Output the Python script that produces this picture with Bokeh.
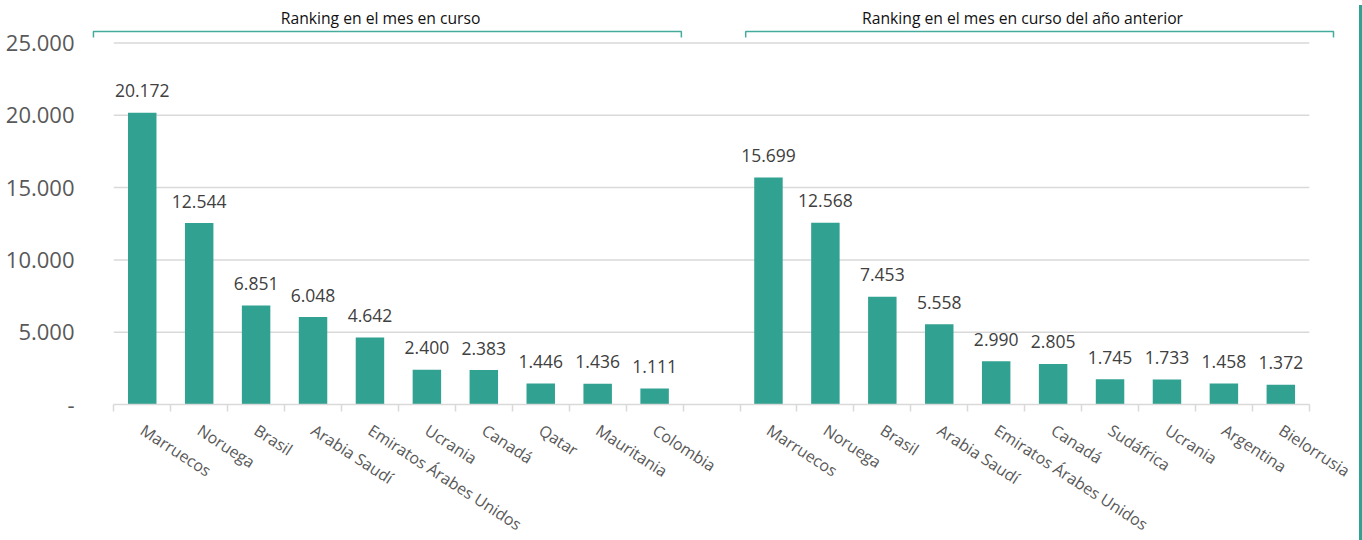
from bokeh.plotting import figure
from bokeh.models import Range1d, FixedTicker, Div
from bokeh.layouts import row
from bokeh.core.properties import value
from bokeh.embed import file_html
from bokeh.resources import INLINE

# ---------------- data ----------------
group_titles = ["Ranking en el mes en curso", "Ranking en el mes en curso del año anterior"]
countries_current = ["Marruecos", "Noruega", "Brasil", "Arabia Saudí", "Emiratos Árabes Unidos",
                     "Ucrania", "Canadá", "Qatar", "Mauritania", "Colombia"]
values_current = [20172, 12544, 6851, 6048, 4642, 2400, 2383, 1446, 1436, 1111]
countries_previous = ["Marruecos", "Noruega", "Brasil", "Arabia Saudí", "Emiratos Árabes Unidos",
                      "Canadá", "Sudáfrica", "Ucrania", "Argentina", "Bielorrusia"]
values_previous = [15699, 12568, 7453, 5558, 2990, 2805, 1745, 1733, 1458, 1372]
y_ticks = [0, 5000, 10000, 15000, 20000, 25000]


def fmt(v):
    return "-" if v == 0 else f"{v:,}".replace(",", ".")


# ---------------- layout helpers ----------------
n1 = len(countries_current)
x_cur = list(range(n1))
x_prev = list(range(n1 + 1, n1 + 1 + len(countries_previous)))
all_x = x_cur + x_prev
all_names = countries_current + countries_previous
all_vals = values_current + values_previous
first, last = all_x[0], all_x[-1]

TEAL = "#31a191"
BRACKET = "#45ab9d"
GRID = "#d9d9d9"
FONT = "Open Sans"

FRAME_H = 396
Y_TOP = 27386
ppu = FRAME_H / Y_TOP  # pixels per data unit

p = figure(frame_width=1250, frame_height=FRAME_H,
           x_range=Range1d(first - 0.5 - 0.444, last + 0.5 + 0.513),
           y_range=Range1d(0, Y_TOP),
           output_backend="svg", toolbar_location=None,
           min_border_left=88, min_border_right=16, min_border_top=8, min_border_bottom=0)
p.outline_line_color = None
p.xgrid.visible = False
p.ygrid.visible = False
p.background_fill_color = "white"
p.border_fill_color = "white"

# gridlines (span only the category area)
grid_vals = y_ticks[1:]
p.segment(x0=[first - 0.5] * len(grid_vals), x1=[last + 0.5] * len(grid_vals),
          y0=grid_vals, y1=grid_vals, line_color=GRID, line_width=1.5)

# bars
p.vbar(x=all_x, top=all_vals, width=0.5, fill_color=TEAL, line_color=None)

# data labels
pad = 22 / ppu
p.text(x=all_x, y=[v + pad for v in all_vals], text=[fmt(v) for v in all_vals],
       text_align="center", text_baseline="alphabetic",
       text_font=value(FONT), text_font_size="17.5px", text_color="#404040")

# group brackets and titles
top = y_ticks[-1]
y_line = top + 11.5 / ppu
y_foot = top + 5.5 / ppu
y_title = top + 25.5 / ppu
groups = [(x_cur[0] - 0.5, x_cur[-1] + 0.5), (x_prev[0] - 0.5, x_prev[-1] + 0.5)]
bx0 = [groups[0][0] - 0.357, groups[1][0] + 0.10]
bx1 = [groups[0][1] - 0.03, groups[1][1] + 0.425]
p.multi_line(xs=[[a, a, b, b] for a, b in zip(bx0, bx1)],
             ys=[[y_foot, y_line, y_line, y_foot]] * 2,
             line_color=BRACKET, line_width=1.5)
title_x = [(a + b) / 2 - s for a, b, s in zip(bx0, bx1, [0.12, 0.30])]
p.text(x=title_x, y=[y_title] * 2, text=group_titles,
       text_align="center", text_baseline="middle",
       text_font=value(FONT), text_font_size="15.7px", text_color="#111111")

# x axis
xa = p.xaxis[0]
xa.ticker = FixedTicker(ticks=all_x, minor_ticks=[i - 0.5 for i in range(first, last + 2)])
xa.bounds = (first - 0.5, last + 0.5)
xa.major_label_overrides = {x: n for x, n in zip(all_x, all_names)}
xa.major_label_orientation = -0.576
xa.major_tick_in = 0
xa.major_tick_out = 0
xa.minor_tick_in = 0
xa.minor_tick_out = 7
xa.minor_tick_line_color = GRID
xa.minor_tick_line_width = 1.5
xa.axis_line_color = GRID
xa.axis_line_width = 1.5
xa.major_label_text_font = FONT
xa.major_label_text_font_size = "16px"
xa.major_label_text_color = "#595959"
xa.major_label_standoff = 17

# y axis
ya = p.yaxis[0]
ya.ticker = FixedTicker(ticks=y_ticks, minor_ticks=[])
ya.major_label_overrides = {t: fmt(t) for t in y_ticks}
ya.axis_line_color = None
ya.major_tick_in = 0
ya.major_tick_out = 0
ya.major_tick_line_color = None
ya.minor_tick_line_color = None
ya.major_label_text_font = FONT
ya.major_label_text_font_size = "22px"
ya.major_label_text_color = "#595959"
ya.major_label_standoff = 14

edge = Div(width=6, height=538, styles={"background-color": TEAL})
layout = row(p, edge, spacing=0)

open("out.html", "w").write(file_html(layout, INLINE))
